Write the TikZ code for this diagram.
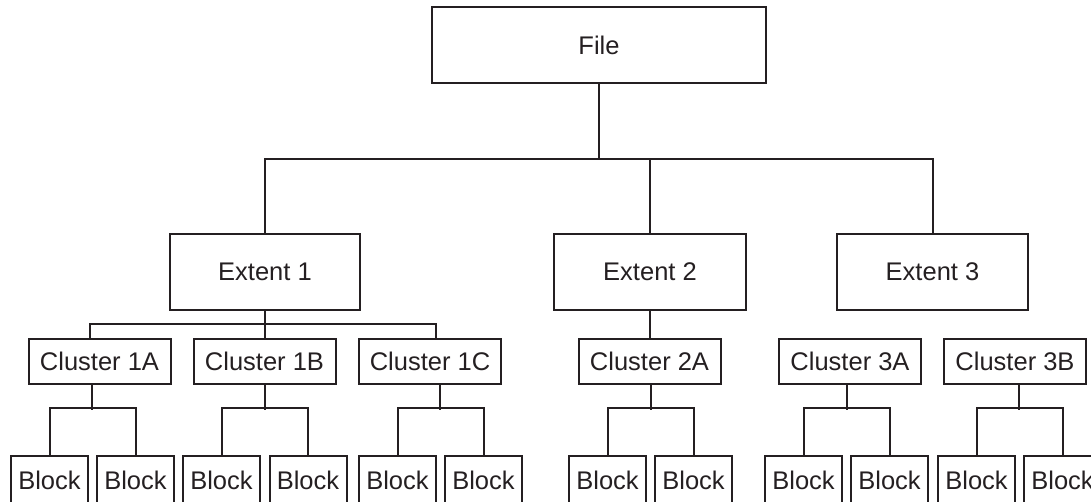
\documentclass[tikz,border=0pt]{standalone}
\usepackage{fontspec}
\setmainfont{Liberation Sans}
\definecolor{ink}{rgb}{0.14,0.12,0.13}
\begin{document}
\begin{tikzpicture}[x=1pt,y=-1pt,
  box/.style={draw=ink, line width=2pt, inner sep=0pt, text=ink,
    font=\fontsize{25.5}{30}\selectfont},
  bigbox/.style={box, minimum height=76pt},
  clbox/.style={box, minimum width=142pt, minimum height=45pt},
  blbox/.style={box, minimum width=77pt, minimum height=48pt},
  conn/.style={draw=ink, line width=2pt}]
\path[use as bounding box, clip] (0,0) rectangle (1091,502);
% top
\node[bigbox, minimum width=334pt] (F) at (599,45) {File};
\node[bigbox, minimum width=190pt] (E1) at (265,272) {Extent 1};
\node[bigbox, minimum width=192pt] (E2) at (650,272) {Extent 2};
\node[bigbox, minimum width=191pt] (E3) at (932.5,272) {Extent 3};
% clusters
\node[clbox] (C1A) at (99.5,361.5) {Cluster 1A};
\node[clbox] (C1B) at (264.5,361.5) {Cluster 1B};
\node[clbox] (C1C) at (430,361.5) {Cluster 1C};
\node[clbox] (C2A) at (649.5,361.5) {Cluster 2A};
\node[clbox] (C3A) at (850,361.5) {Cluster 3A};
\node[clbox] (C3B) at (1015,361.5) {Cluster 3B};
% blocks
\node[blbox] (B1) at (49.5,480) {Block};
\node[blbox] (B2) at (135.5,480) {Block};
\node[blbox] (B3) at (221.5,480) {Block};
\node[blbox] (B4) at (308,480) {Block};
\node[blbox] (B5) at (397.5,480) {Block};
\node[blbox] (B6) at (483.5,480) {Block};
\node[blbox] (B7) at (607.5,480) {Block};
\node[blbox] (B8) at (693.5,480) {Block};
\node[blbox] (B9) at (803.5,480) {Block};
\node[blbox] (B10) at (889.5,480) {Block};
\node[blbox] (B11) at (976.5,480) {Block};
\node[blbox] (B12) at (1062.5,480) {Block};
% file to extents
\path[conn] (F.south) -- (F.south |- 0,160);
\path[conn] (E1.north) -- ++(0,-74) -| (E3.north);
\path[conn] (E2.north) -- (E2.north |- 0,160);
% extents to clusters
\path[conn] (E1.south) -- (E1.south |- C1B.north);
\path[conn] ([xshift=-9.5pt]C1A.north) -- ++(0,-14) -| ([xshift=6pt]C1C.north);
\path[conn] (E2.south) -- (E2.south |- C2A.north);
% clusters to blocks
\foreach \c/\a/\b/\s in {C1A/B1/B2/-7.5, C1B/B3/B4/0.5, C1C/B5/B6/10,
    C2A/B7/B8/1, C3A/B9/B10/-3.5, C3B/B11/B12/4} {
  \path[conn] ([xshift=\s pt]\c.south) -- ++(0,25);
  \path[conn] (\a.north) -- ++(0,-47) -| (\b.north);
}
\end{tikzpicture}
\end{document}
